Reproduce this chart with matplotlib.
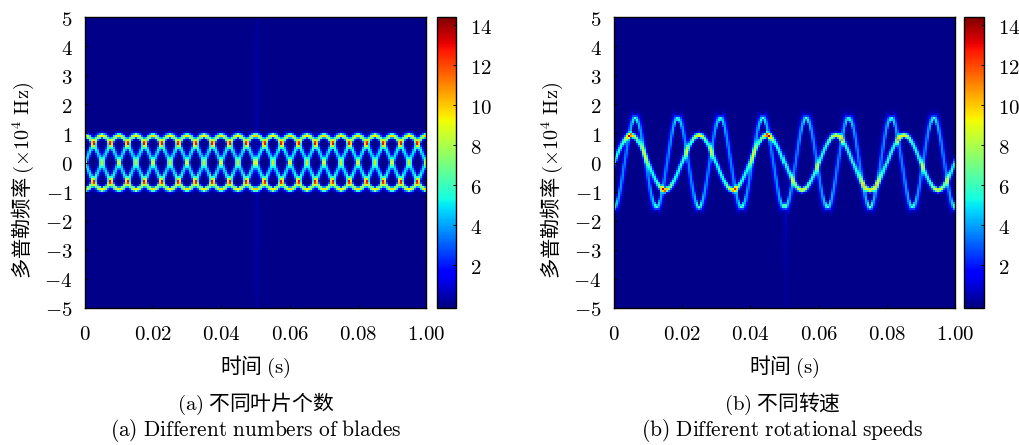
import numpy as np
import matplotlib
matplotlib.use("Agg")
import matplotlib.pyplot as plt

plt.rcParams['font.family'] = ['Noto Sans CJK SC', 'DejaVu Sans']
plt.rcParams['mathtext.fontset'] = 'cm'

# --- values (frequency in 1e4 Hz, time in s) ---
x_ticks = [0, 0.02, 0.04, 0.06, 0.08, 0.10]
x_labels = ['0', '0.02', '0.04', '0.06', '0.08', '1.00']
y_ticks = [-5, -4, -3, -2, -1, 0, 1, 2, 3, 4, 5]
cbar_ticks = [2, 4, 6, 8, 10, 12, 14]
level_min, level_max = -0.15, 14.4

# Ridge samples for one rotation (16 samples a cycle), read off the crests,
# crossings and flanks.
blade_period = 0.02
blade_f = [0, .36, .68, .88, .95, .88, .68, .36, 0, -.36, -.68, -.88, -.95, -.88, -.68, -.36]
blade_level = [5.0, 5.0, 6.9, 8.2, 10.2, 8.2, 6.9, 5.0, 5.0, 5.0, 6.9, 8.2, 10.2, 8.2, 6.9, 5.0]
# the four blades of panel (a) start a quarter cycle apart
blade_offsets = [0, 4, 8, 12]

slow_period = 0.02
slow_f = [0, .37, .68, .89, .96, .89, .68, .37, 0, -.37, -.68, -.89, -.97, -.89, -.68, -.37]
slow_level = [5.6, 5.6, 5.8, 8.0, 10.0, 8.0, 5.8, 5.6, 5.6, 5.6, 5.8, 8.0, 10.0, 8.0, 5.8, 5.6]
# level at the ten successive extremes of the slower rotor in panel (b)
slow_extreme_level = [10.8, 11.5, 10.0, 10.0, 11.5, 10.0, 9.5, 10.0, 10.0, 10.0]

fast_period = 0.0125
fast_f = [-1.55, -1.43, -1.10, -.59, 0, .59, 1.10, 1.43, 1.55, 1.43, 1.10, .59, 0, -.59, -1.10, -1.43]
fast_level = [7.0, 4.8, 4.0, 3.7, 3.6, 3.7, 4.0, 4.8, 6.2, 4.8, 4.0, 3.7, 3.6, 3.7, 4.0, 4.8]

# faint vertical streak near t = 0.05
streak_t = [0.0494, 0.0503, 0.0512]
streak_a = [0.0, 0.45, 0.0]
streak_b = [0.0, 0.7, 0.0]


def series(values, cycles, roll=0):
    v = np.roll(np.asarray(values, float), -roll)
    return np.append(np.tile(v, cycles), v[0])


def add_ridge(Z, t, f, t_s, f_s, lev_s):
    ridge = np.interp(t, t_s, f_s)
    lev = np.interp(t, t_s, lev_s)
    slope = np.gradient(ridge, t) * (29.1 / 3410)
    sig = 0.056 * np.sqrt(1 + slope ** 2)
    Z += lev[None, :] * np.exp(-0.5 * ((f[:, None] - ridge[None, :]) / sig[None, :]) ** 2)


nt, nf = 170, 146
t_edges = np.linspace(0, 0.1, nt + 1)
f_edges = np.linspace(-5, 5, nf + 1)
t_c = 0.5 * (t_edges[:-1] + t_edges[1:])
f_c = 0.5 * (f_edges[:-1] + f_edges[1:])

# panel (a)
Z_a = np.zeros((nf, nt))
ts = np.arange(81) * blade_period / 16
for off in blade_offsets:
    add_ridge(Z_a, t_c, f_c, ts, series(blade_f, 5, off), series(blade_level, 5, off))
Z_a += np.interp(t_c, streak_t, streak_a)[None, :] * (1 - np.abs(f_c[:, None]) / 9)

# panel (b)
Z_b = np.zeros((nf, nt))
slow_lv = series(slow_level, 5)
slow_lv[4::8] = slow_extreme_level
add_ridge(Z_b, t_c, f_c, ts, series(slow_f, 5), slow_lv)
ts_fast = np.arange(129) * fast_period / 16
add_ridge(Z_b, t_c, f_c, ts_fast, series(fast_f, 8), series(fast_level, 8))
Z_b += np.interp(t_c, streak_t, streak_b)[None, :] * np.where(f_c[:, None] < 0, 1.0, 0.25) * np.exp(-np.abs(f_c[:, None] + 2) / 1.5)

W, H = 1019, 445
fig = plt.figure(figsize=(W / 100, H / 100), dpi=100)


def px_axes(x0, x1, y0, y1):
    return fig.add_axes([x0 / W, 1 - y1 / H, (x1 - x0) / W, (y1 - y0) / H])


def panel(Z, x0, x1, cx0, cx1, cap_cn, cap_en, cx):
    ax = px_axes(x0, x1, 17, 308)
    mesh = ax.pcolormesh(t_edges, f_edges, Z, cmap='jet', vmin=level_min, vmax=level_max, shading='flat')
    ax.set_xlim(0, 0.1)
    ax.set_ylim(-5, 5)
    ax.set_xticks(x_ticks)
    ax.set_xticklabels(['$\\mathrm{%s}$' % s for s in x_labels], fontsize=15)
    ax.set_yticks(y_ticks)
    ax.set_yticklabels(['$%d$' % v for v in y_ticks], fontsize=15)
    ax.tick_params(axis='x', direction='in', length=2, width=0.7, pad=10.5)
    ax.tick_params(axis='y', direction='in', length=2, width=0.7, pad=9)
    for s in ax.spines.values():
        s.set_linewidth(1.0)
    cax = px_axes(cx0, cx1, 17, 308)
    cb = fig.colorbar(mesh, cax=cax)
    cb.set_ticks(cbar_ticks)
    cb.set_ticklabels(['$%d$' % v for v in cbar_ticks], fontsize=15)
    cax.tick_params(direction='in', length=2, width=0.7, pad=10)
    cb.outline.set_linewidth(1.0)
    mid = 0.5 * (x0 + x1)
    fig.text((x0 - 62) / W, 1 - 180 / H, '多普勒频率 $(\\times 10^4\\ \\mathrm{Hz})$', rotation=90,
             ha='center', va='center', fontsize=14.6)
    fig.text(mid / W, 1 - 367 / H, '时间 $\\mathrm{(s)}$', ha='center', va='center', fontsize=15)
    fig.text(cx / W, 1 - 404 / H, cap_cn, ha='center', va='center', fontsize=15)
    fig.text(cx / W, 1 - 431 / H, cap_en, ha='center', va='center', fontsize=15.4)


panel(Z_a, 85, 426, 437, 456, '$\\mathrm{(a)}$ 不同叶片个数',
      '$\\mathrm{(a)\\ Different\\ numbers\\ of\\ blades}$', 256)
panel(Z_b, 614, 955, 964, 984, '$\\mathrm{(b)}$ 不同转速',
      '$\\mathrm{(b)\\ Different\\ rotational\\ speeds}$', 782)

fig.savefig('out.png', dpi=100)
